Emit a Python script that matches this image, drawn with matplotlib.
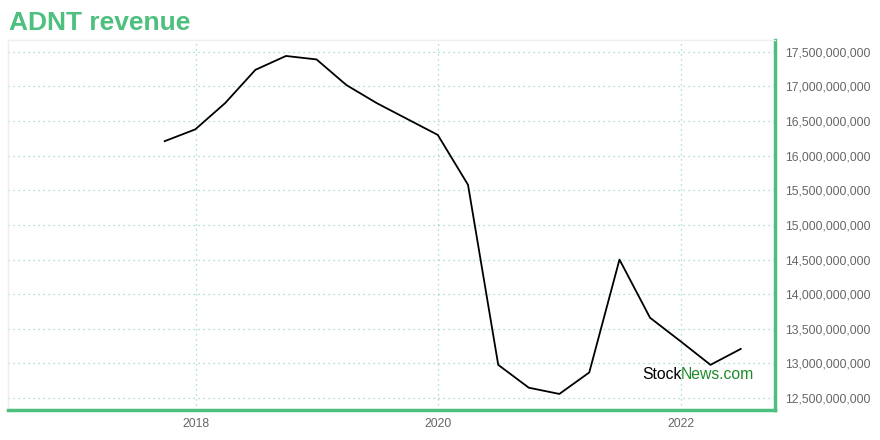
import matplotlib
matplotlib.use("Agg")
import matplotlib.pyplot as plt
import matplotlib.dates as mdates
import matplotlib.ticker as mticker
import pandas as pd

plt.rcParams['font.family'] = ['Liberation Sans', 'DejaVu Sans']

dates = ["2017-09-30", "2017-12-31", "2018-03-31", "2018-06-30", "2018-09-30",
         "2018-12-31", "2019-03-31", "2019-06-30", "2019-09-30", "2019-12-31",
         "2020-03-31", "2020-06-30", "2020-09-30", "2020-12-31", "2021-03-31",
         "2021-06-30", "2021-09-30", "2021-12-31", "2022-03-31", "2022-06-30"]
revenue = [16.21e9, 16.38e9, 16.76e9, 17.24e9, 17.44e9,
           17.39e9, 17.02e9, 16.76e9, 16.53e9, 16.30e9,
           15.58e9, 12.98e9, 12.65e9, 12.56e9, 12.87e9,
           14.50e9, 13.66e9, 13.32e9, 12.98e9, 13.21e9]
year_ticks = ["2018-01-01", "2020-01-01", "2022-01-01"]
y_ticks = [12.5e9, 13.0e9, 13.5e9, 14.0e9, 14.5e9, 15.0e9, 15.5e9,
           16.0e9, 16.5e9, 17.0e9, 17.5e9]

GREEN = "#4dbf7f"
x = pd.to_datetime(dates)

fig = plt.figure(figsize=(8.8, 4.4), dpi=100)
ax = fig.add_axes([0.009, 0.068, 0.872, 0.841])
ax.plot(x, revenue, color="black", lw=1.3)

ax.set_xlim(pd.Timestamp("2016-06-15"), pd.Timestamp("2022-10-12"))
ax.set_ylim(12.327e9, 17.67e9)

ax.set_xticks(pd.to_datetime(year_ticks))
ax.xaxis.set_major_formatter(mdates.DateFormatter("%Y"))
ax.set_yticks(y_ticks)
ax.yaxis.set_major_formatter(mticker.FuncFormatter(lambda v, p: f"{v:,.0f}"))
ax.yaxis.tick_right()

ax.grid(True, color=GREEN, alpha=0.6, linestyle=(0, (1, 3)), lw=0.9)
ax.tick_params(axis="both", length=0, labelsize=8.8, labelcolor="#666666")
ax.tick_params(axis="y", pad=7)
ax.tick_params(axis="x", pad=6)

for s in ["top", "left"]:
    ax.spines[s].set_color("#eeeeee")
    ax.spines[s].set_linewidth(1)
for s in ["right", "bottom"]:
    ax.spines[s].set_color(GREEN)
    ax.spines[s].set_linewidth(2.5)

fig.text(0.010, 0.948, "ADNT revenue", color=GREEN, fontsize=19,
         fontweight="bold", va="center", ha="left")

t1 = ax.text(0.826, 0.097, "Stock", transform=ax.transAxes, fontsize=11.3,
             color="black", va="center", ha="left")
fig.canvas.draw()
ax.annotate("News.com", xycoords=t1, xy=(1, 0), va="bottom", ha="left",
            fontsize=11.3, color="#1e8c2a")

fig.savefig("out.png", dpi=100)
